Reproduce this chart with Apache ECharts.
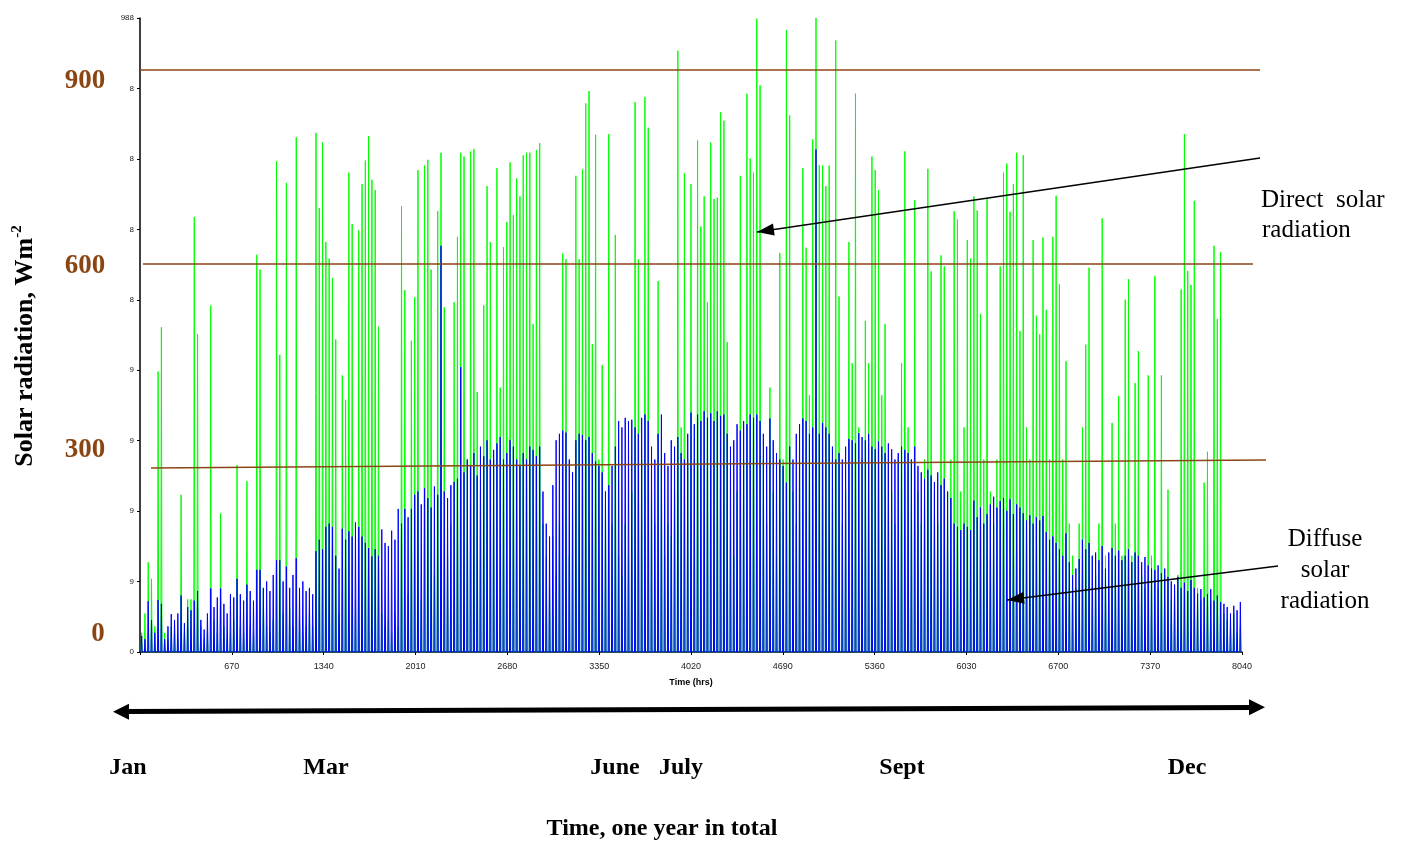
<!DOCTYPE html>
<html><head><meta charset="utf-8">
<script src="https://cdn.jsdelivr.net/npm/echarts@6/dist/echarts.min.js"></script>
<style>html,body{margin:0;padding:0;background:#fff}#c{width:1406px;height:841px}</style>
</head><body><div id="c"></div>
<script>
// Daily peak of direct (green) and diffuse (blue) solar radiation, W/m2
const directPeak = [
30,60,140,114,40,437,506,30,20,40,
30,20,245,30,82,82,678,495,40,20,
30,540,50,30,216,40,20,30,50,291,
40,30,266,40,30,619,596,98,40,30,
50,765,463,60,731,70,40,802,50,30,
40,60,40,809,692,794,639,613,583,487,
60,431,393,747,667,80,657,729,766,804,
736,720,507,60,40,50,30,60,40,695,
564,90,485,553,751,80,758,767,596,120,
687,778,537,150,200,545,647,778,772,300,
780,784,405,250,540,726,639,300,754,412,
631,670,763,681,738,710,774,778,778,511,
782,793,200,150,100,180,120,200,621,612,
150,250,742,612,752,855,874,480,806,300,
447,250,807,200,650,150,120,200,150,250,
857,612,300,865,817,250,200,578,300,150,
200,180,250,937,350,746,300,729,300,797,
663,710,545,794,706,708,841,828,483,200,
150,250,742,300,870,769,747,987,883,300,
200,412,250,150,622,300,969,836,250,200,
300,754,630,400,799,988,759,758,726,758,
300,953,554,200,250,639,450,870,350,300,
516,450,772,751,720,400,511,300,250,200,
300,450,780,350,300,704,250,200,300,753,
593,250,200,618,601,250,300,687,674,250,
350,642,613,710,688,527,300,706,250,200,
300,601,747,761,686,729,778,500,774,350,
300,642,524,495,646,533,300,647,711,573,
300,453,200,150,100,200,350,479,599,150,
120,200,676,150,100,357,200,399,150,549,
581,150,419,469,120,100,431,150,586,100,
431,120,253,80,100,120,565,807,594,572,
703,100,80,264,312,80,633,519,623,60,
50,40,60,30,40
];
const diffusePeak = [
25,20,79,50,30,81,75,20,40,59,
50,60,88,45,70,65,80,95,50,35,
60,99,70,85,99,75,60,90,85,114,
90,80,105,95,80,128,128,100,110,95,
120,143,143,110,133,100,120,146,100,110,
95,100,90,157,175,160,195,200,195,150,
130,192,175,188,180,202,195,180,170,162,
149,160,150,191,170,165,189,175,223,200,
223,210,223,245,250,230,255,240,225,258,
245,633,250,240,260,265,270,444,280,300,
290,310,275,320,305,330,300,315,325,335,
300,310,330,320,300,290,310,300,320,315,
305,320,250,200,180,260,330,340,345,342,
300,280,330,340,338,330,335,310,297,290,
280,250,260,290,320,360,350,365,360,362,
350,340,365,370,360,320,300,340,370,310,
290,330,320,335,310,300,340,373,355,370,
360,375,365,372,360,375,368,370,340,320,
330,355,345,360,355,370,365,370,360,340,
320,364,330,310,300,290,264,320,300,340,
355,364,360,340,350,783,340,357,350,340,
320,300,310,300,320,332,330,325,341,335,
330,340,320,316,328,320,310,325,316,300,
310,320,315,310,300,320,290,280,270,284,
275,265,280,260,270,250,240,200,195,190,
200,195,190,236,210,225,200,215,230,242,
225,235,240,220,238,215,230,225,216,205,
213,200,210,205,212,187,175,180,170,160,
150,185,140,120,130,145,175,160,170,150,
155,143,165,130,155,162,150,158,143,150,
160,140,155,150,140,148,135,130,128,135,
123,130,117,110,105,117,100,108,95,112,
100,91,98,85,90,98,80,88,78,75,
70,60,72,65,78
];
const yTickLabels = ['0','9','9','9','9','8','8','8','8','988'];
const xMax = 8040, xStep = 670, yMax = 988, ySteps = 9;
const scaleLabels = ['900','600','300','0'];
const monthLabels = ['Jan','Mar','June','July','Sept','Dec'];
const xAxisTitle = 'Time (hrs)';
const bottomTitle = 'Time, one year in total';

// ---- layout (pixels) ----
const BROWN = '#8B4513';
const scaleLabelPos = [[85,81],[85,266],[85,450],[98,634]];
const monthX = [128,326,615,681,902,1187];
const SERIF = '"Liberation Serif", "Times New Roman", serif';

function daySeries(peaks){
  const out = [];
  peaks.forEach((v,d) => { out.push([d*24+8,0],[d*24+12,v],[d*24+16,0]); });
  return out;
}
function arrowHead(tip, from, len, half){
  const dx = tip[0]-from[0], dy = tip[1]-from[1];
  const L = Math.hypot(dx,dy), ux = dx/L, uy = dy/L;
  const bx = tip[0]-ux*len, by = tip[1]-uy*len;
  return [[tip[0],tip[1]],[bx-uy*half,by+ux*half],[bx+uy*half,by-ux*half]];
}
const serifB = (s) => 'bold ' + s + 'px ' + SERIF;
const serif = (s) => s + 'px ' + SERIF;

const graphics = [];
[[140,70,1260,70],[143,264,1253,264],[151,468,1266,460]].forEach(l => graphics.push({
  type:'line', silent:true, z:10, shape:{x1:l[0],y1:l[1],x2:l[2],y2:l[3]},
  style:{stroke:BROWN, lineWidth:1.3}
}));
scaleLabels.forEach((t,i) => graphics.push({
  type:'text', x:scaleLabelPos[i][0], y:scaleLabelPos[i][1], z:10,
  style:{text:t, font:serifB(27), fill:BROWN, textAlign:'center', textVerticalAlign:'middle'}
}));
graphics.push({
  type:'text', x:25, y:346, rotation:Math.PI/2, z:10,
  style:{
    text:'{a|Solar radiation, Wm}{b|-2}', textAlign:'center', textVerticalAlign:'middle',
    rich:{
      a:{fontFamily:SERIF, fontWeight:'bold', fontSize:26, color:BROWN, lineHeight:30},
      b:{fontFamily:SERIF, fontWeight:'bold', fontSize:15, color:BROWN, verticalAlign:'top', lineHeight:30}
    }
  }
});
monthLabels.forEach((t,i) => graphics.push({
  type:'text', x:monthX[i], y:768, z:10,
  style:{text:t, font:serifB(24), fill:'#000', textAlign:'center', textVerticalAlign:'middle'}
}));
graphics.push({type:'text', x:662, y:829, z:10,
  style:{text:bottomTitle, font:serifB(24), fill:'#000', textAlign:'center', textVerticalAlign:'middle'}});
graphics.push({type:'line', z:10, shape:{x1:126,y1:711.4,x2:1251,y2:707.6}, style:{stroke:'#000', lineWidth:5}});
graphics.push({type:'polygon', z:10, shape:{points:arrowHead([113,711.8],[1265,707.3],16,8)}, style:{fill:'#000'}});
graphics.push({type:'polygon', z:10, shape:{points:arrowHead([1265,707.3],[113,711.8],16,8)}, style:{fill:'#000'}});
const ann = [
  {from:[1260,158], tip:[757,232]},
  {from:[1278,566], tip:[1007,600]}
];
ann.forEach(a => {
  const head = arrowHead(a.tip, a.from, 17, 6);
  graphics.push({type:'line', z:10, shape:{x1:a.from[0],y1:a.from[1],x2:a.tip[0],y2:a.tip[1]}, style:{stroke:'#000', lineWidth:1.3}});
  graphics.push({type:'polygon', z:10, shape:{points:head}, style:{fill:'#000'}});
});
graphics.push({type:'text', x:1261, y:200, z:10, style:{text:'Direct  solar', font:serif(25), fill:'#000', textAlign:'left', textVerticalAlign:'middle'}});
graphics.push({type:'text', x:1262, y:230, z:10, style:{text:'radiation', font:serif(25), fill:'#000', textAlign:'left', textVerticalAlign:'middle'}});
[['Diffuse',539],['solar',570],['radiation',601]].forEach(p => graphics.push({
  type:'text', x:1325, y:p[1], z:10, style:{text:p[0], font:serif(25), fill:'#000', textAlign:'center', textVerticalAlign:'middle'}
}));

const chart = echarts.init(document.getElementById('c'), null, {renderer:'canvas'});
chart.setOption({
  animation:false,
  backgroundColor:'#fff',
  grid:{left:140, top:18, width:1102, height:634, containLabel:false},
  xAxis:{
    type:'value', min:0, max:xMax, interval:xStep,
    name:xAxisTitle, nameLocation:'middle', nameGap:26,
    nameTextStyle:{fontFamily:'"Liberation Sans", Arial, sans-serif', fontWeight:'bold', fontSize:9, color:'#000'},
    axisLine:{lineStyle:{color:'#000', width:1.5}},
    axisTick:{show:true, length:3, lineStyle:{color:'#000'}},
    axisLabel:{fontFamily:'"Liberation Sans Narrow", "Arial Narrow", "Liberation Sans", sans-serif', fontSize:9, color:'#222', margin:10,
      formatter:(v) => v === 0 ? '' : String(v)},
    splitLine:{show:false}
  },
  yAxis:{
    type:'value', min:0, max:yMax, interval:yMax/ySteps + 1e-7,
    axisLine:{show:true, lineStyle:{color:'#000', width:1.5}},
    axisTick:{show:true, length:3, lineStyle:{color:'#000'}},
    axisLabel:{fontFamily:'"Liberation Sans Narrow", "Arial Narrow", "Liberation Sans", sans-serif', fontSize:8, color:'#222', margin:6,
      formatter:(v, i) => yTickLabels[i] !== undefined ? yTickLabels[i] : ''},
    splitLine:{show:false}
  },
  series:[
    {type:'line', name:'Direct solar radiation', data:daySeries(directPeak), symbol:'none', showSymbol:false, silent:true,
      lineStyle:{color:'#00ff00', width:1}, z:2},
    {type:'line', name:'Diffuse solar radiation', data:daySeries(diffusePeak), symbol:'none', showSymbol:false, silent:true,
      lineStyle:{color:'#0000ff', width:1}, z:3}
  ],
  graphic:graphics
});
</script>
</body></html>
